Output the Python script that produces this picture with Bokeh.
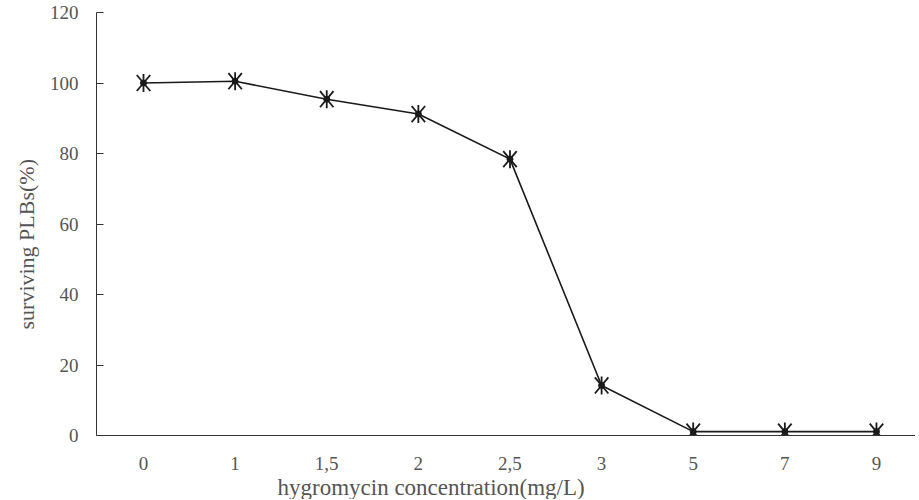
import math
from bokeh.plotting import figure
from bokeh.models import Range1d, FixedTicker, Title
from bokeh.embed import file_html
from bokeh.resources import INLINE

concentrations = ["0", "1", "1.5", "2", "2.5", "3", "5", "7", "9"]
tick_labels = ["0", "1", "1,5", "2", "2,5", "3", "5", "7", "9"]
surviving = [100, 100.5, 95.4, 91.2, 78.4, 14.2, 1.1, 1.1, 1.1]
y_ticks = [0, 20, 40, 60, 80, 100, 120]

xs = list(range(len(concentrations)))

p = figure(width=915, height=499, output_backend="svg", toolbar_location=None,
           x_range=Range1d(-0.513, 8.426), y_range=Range1d(0, 120),
           min_border_left=96, min_border_right=0, min_border_top=12, min_border_bottom=40)
p.outline_line_color = None
p.xgrid.visible = False
p.ygrid.visible = False

ink = "#1a1a1a"
p.line(xs, surviving, line_color=ink, line_width=1.6)
p.scatter(xs, surviving, marker="dash", size=18, angle=math.pi / 2, line_color=ink, line_width=1.8)
p.scatter(xs, surviving, marker="dash", size=21, angle=math.radians(50), line_color=ink, line_width=1.8)
p.scatter(xs, surviving, marker="dash", size=21, angle=math.radians(-50), line_color=ink, line_width=1.8)
p.scatter(xs, surviving, marker="circle", size=6, fill_color=ink, line_color=ink)

font = "Liberation Serif"
grey = "#555555"

p.xaxis.ticker = FixedTicker(ticks=xs)
p.xaxis.major_label_overrides = {i: t for i, t in enumerate(tick_labels)}
p.xaxis.major_tick_line_color = None
p.xaxis.minor_tick_line_color = None
p.xaxis.axis_line_color = "#333333"
p.xaxis.major_label_text_font = font
p.xaxis.major_label_text_font_size = "19px"
p.xaxis.major_label_text_color = grey
p.xaxis.major_label_standoff = 15

p.yaxis.ticker = FixedTicker(ticks=y_ticks)
p.yaxis.major_tick_in = 7
p.yaxis.major_tick_out = 0
p.yaxis.minor_tick_line_color = None
p.yaxis.axis_line_color = "#333333"
p.yaxis.major_tick_line_color = "#333333"
p.yaxis.major_label_text_font = font
p.yaxis.major_label_text_font_size = "19px"
p.yaxis.major_label_text_color = grey
p.yaxis.major_label_standoff = 18

ylabel = Title(text="surviving PLBs(%)", align="left", offset=106,
               text_font=font, text_font_size="22px", text_font_style="normal",
               text_color=grey, standoff=16)
p.add_layout(ylabel, "left")

xlabel = Title(text="hygromycin concentration(mg/L)", align="left", offset=181,
               text_font=font, text_font_size="23px", text_font_style="normal",
               text_color=grey, standoff=0)
p.add_layout(xlabel, "below")

open("out.html", "w").write(file_html(p, INLINE))
